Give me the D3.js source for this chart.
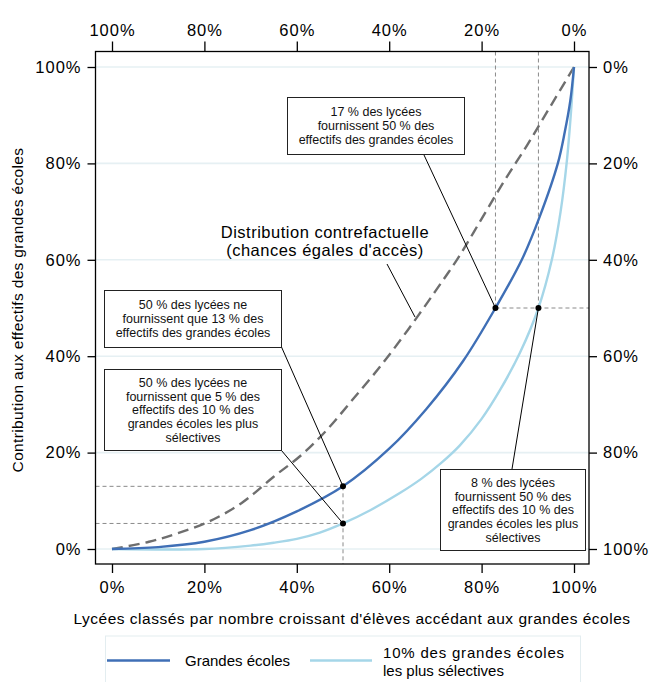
<!DOCTYPE html>
<html><head><meta charset="utf-8">
<script src="https://cdn.jsdelivr.net/npm/d3@7/dist/d3.min.js"></script>
<style>
body{margin:0;background:#fff;}
svg{display:block;font-family:"Liberation Sans",Arial,Helvetica,sans-serif;}
</style></head>
<body><svg id="c" width="655" height="682"></svg>
<script>
// ---- data ----
const tickValues = [0, 20, 40, 60, 80, 100];
const tickLabels = ["0%", "20%", "40%", "60%", "80%", "100%"];
const reverseLabels = ["100%", "80%", "60%", "40%", "20%", "0%"];

const grandesX = [0, 10, 20, 30, 40, 50, 60, 68, 76, 83, 88.7, 92.6, 96.5, 98, 99.2, 100];
const grandesY = [0, 0.4, 1.5, 3.9, 7.8, 13, 20.8, 29, 39, 50, 60, 69, 80, 86.5, 93, 100];

const selectX = [0, 20, 30, 35, 40, 45, 50, 56, 62.3, 67, 71.2, 75.3, 80, 84, 88.3, 92.3, 95.2, 97.1, 98.4, 99.3, 100];
const selectY = [0, 0, 0.7, 1.3, 2.1, 3.4, 5.3, 8.1, 11.6, 14.6, 17.8, 21.5, 27, 33, 40.7, 50, 60, 70, 80, 90, 100];

const contreX = [0, 8, 14, 21, 28, 35, 41, 46.5, 52, 58, 64, 70, 75, 80, 85, 90, 95, 100];
const contreY = [0, 1.5, 3.2, 5.7, 9.5, 15, 19.5, 24.7, 30.9, 37.8, 45.4, 53.5, 60.5, 68.5, 76.5, 84, 92, 100];

const markX = [50, 50, 83, 92.3];
const markY = [13, 5.3, 50, 50];

const box1 = ["17 % des lycées", "fournissent 50 % des", "effectifs des grandes écoles"];
const box2 = ["50 % des lycées ne", "fournissent que 13 % des", "effectifs des grandes écoles"];
const box3 = ["50 % des lycées ne", "fournissent que 5 % des", "effectifs des 10 % des", "grandes écoles les plus", "sélectives"];
const box4 = ["8 % des lycées", "fournissent 50 % des", "effectifs des 10 % des", "grandes écoles les plus", "sélectives"];
const contreLabel = ["Distribution contrefactuelle", "(chances égales d'accès)"];
const legendLabels = [["Grandes écoles"], ["10% des grandes écoles", "les plus sélectives"]];
const xTitle = "Lycées classés par nombre croissant d'élèves accédant aux grandes écoles";
const yTitle = "Contribution aux effectifs des grandes écoles";

// ---- drawing ----
const svg = d3.select("#c");
const L = 95.5, R = 589, T = 51.5, B = 564;
const x = d3.scaleLinear().domain([0, 100]).range([112, 574]);
const y = d3.scaleLinear().domain([0, 100]).range([549, 67]);
const BLUE = "#3f6fb6", LIGHT = "#a5d6e8", GREY = "#6e6e6e";

// gridlines
svg.append("g").selectAll("line").data(tickValues).join("line")
  .attr("x1", L).attr("x2", R).attr("y1", d => y(d)).attr("y2", d => y(d))
  .attr("stroke", "#e6f0f3").attr("stroke-width", 1.6);

// reference dashed guide lines
const guide = svg.append("g").attr("stroke", "#8a8a8a").attr("stroke-width", 1).attr("stroke-dasharray", "4,3").attr("fill", "none");
guide.append("line").attr("x1", L).attr("x2", x(markX[0])).attr("y1", y(markY[0])).attr("y2", y(markY[0]));
guide.append("line").attr("x1", L).attr("x2", x(markX[1])).attr("y1", y(markY[1])).attr("y2", y(markY[1]));
guide.append("line").attr("x1", x(markX[0])).attr("x2", x(markX[0])).attr("y1", y(markY[0])).attr("y2", B);
guide.append("line").attr("x1", x(markX[2])).attr("x2", x(markX[2])).attr("y1", T).attr("y2", y(markY[2]));
guide.append("line").attr("x1", x(markX[3])).attr("x2", x(markX[3])).attr("y1", T).attr("y2", y(markY[3]));
guide.append("line").attr("x1", x(markX[2])).attr("x2", R).attr("y1", y(markY[2])).attr("y2", y(markY[2]));

// curves
const line = d3.line().x(d => x(d[0])).y(d => y(d[1])).curve(d3.curveCatmullRom.alpha(0.5));
svg.append("path").attr("d", line(d3.zip(contreX, contreY)))
  .attr("fill", "none").attr("stroke", GREY).attr("stroke-width", 2.4).attr("stroke-dasharray", "11,6");
svg.append("path").attr("d", line(d3.zip(selectX, selectY)))
  .attr("fill", "none").attr("stroke", LIGHT).attr("stroke-width", 2.4);
svg.append("path").attr("d", line(d3.zip(grandesX, grandesY)))
  .attr("fill", "none").attr("stroke", BLUE).attr("stroke-width", 2.4);

// frame
svg.append("rect").attr("x", L).attr("y", T).attr("width", R - L).attr("height", B - T)
  .attr("fill", "none").attr("stroke", "#000").attr("stroke-width", 1.3);

// axes
const axB = svg.append("g").attr("transform", `translate(0,${B})`)
  .call(d3.axisBottom(x).tickValues(tickValues).tickFormat((d, i) => tickLabels[i]).tickSize(9).tickPadding(8));
const axT = svg.append("g").attr("transform", `translate(0,${T})`)
  .call(d3.axisTop(x).tickValues(tickValues).tickFormat((d, i) => reverseLabels[i]).tickSize(10).tickPadding(6));
const axL = svg.append("g").attr("transform", `translate(${L},0)`)
  .call(d3.axisLeft(y).tickValues(tickValues).tickFormat((d, i) => tickLabels[i]).tickSize(8).tickPadding(6));
const axR = svg.append("g").attr("transform", `translate(${R},0)`)
  .call(d3.axisRight(y).tickValues(tickValues).tickFormat((d, i) => reverseLabels[i]).tickSize(8).tickPadding(6));
[axB, axT, axL, axR].forEach(a => {
  a.select(".domain").remove();
  a.selectAll(".tick line").attr("stroke", "#000").attr("stroke-width", 1.3);
  a.selectAll(".tick text").attr("fill", "#000").style("font-size", "16.5px")
    .style("letter-spacing", "1px").style("font-family", '"Liberation Sans",Arial,sans-serif');
});

// leader lines
const lead = svg.append("g").attr("stroke", "#000").attr("stroke-width", 1);
lead.append("line").attr("x1", 424).attr("y1", 155).attr("x2", x(markX[2])).attr("y2", y(markY[2]));
lead.append("line").attr("x1", 281.5).attr("y1", 347).attr("x2", x(markX[0])).attr("y2", y(markY[0]));
lead.append("line").attr("x1", 281.5).attr("y1", 450.5).attr("x2", x(markX[1])).attr("y2", y(markY[1]));
lead.append("line").attr("x1", 512).attr("y1", 469).attr("x2", x(markX[3])).attr("y2", y(markY[3]));
lead.append("line").attr("x1", 387).attr("y1", 264).attr("x2", 415).attr("y2", 317);

// points
svg.append("g").selectAll("circle").data(d3.zip(markX, markY)).join("circle")
  .attr("cx", d => x(d[0])).attr("cy", d => y(d[1])).attr("r", 3).attr("fill", "#000");

// annotation boxes
function box(lines, x0, y0, w, h, firstBase, step) {
  const g = svg.append("g");
  g.append("rect").attr("x", x0).attr("y", y0).attr("width", w).attr("height", h)
    .attr("fill", "#fff").attr("stroke", "#222").attr("stroke-width", 1);
  g.selectAll("text").data(lines).join("text")
    .attr("x", x0 + w / 2).attr("y", (d, i) => firstBase + i * step)
    .attr("text-anchor", "middle").style("font-size", "12.5px").attr("fill", "#111").text(d => d);
}
box(box1, 287.5, 97.5, 177, 57, 116, 14);
box(box2, 104.5, 290.5, 177, 57, 308.5, 14);
box(box3, 104.5, 369.5, 177, 81, 387, 13.7);
box(box4, 440.5, 469.5, 145, 81, 487, 13.7);

// counterfactual label
svg.append("g").selectAll("text").data(contreLabel).join("text")
  .attr("x", 325).attr("y", (d, i) => 238 + i * 18).attr("text-anchor", "middle")
  .style("font-size", "16.5px").style("letter-spacing", "0.5px").attr("fill", "#000").text(d => d);

// titles
svg.append("text").attr("x", 352).attr("y", 624).attr("text-anchor", "middle")
  .style("font-size", "15.5px").style("letter-spacing", "0.5px").attr("fill", "#000").text(xTitle);
svg.append("text").attr("transform", "translate(23,310) rotate(-90)").attr("text-anchor", "middle")
  .style("font-size", "15.5px").style("letter-spacing", "0.35px").attr("fill", "#000").text(yTitle);

// legend
svg.append("rect").attr("x", 105.5).attr("y", 636).attr("width", 475).attr("height", 60)
  .attr("fill", "#fff").attr("stroke", "#e3edf0").attr("stroke-width", 1);
const lg = svg.append("g");
lg.append("line").attr("x1", 107).attr("x2", 170).attr("y1", 660.5).attr("y2", 660.5).attr("stroke", BLUE).attr("stroke-width", 2.4);
lg.append("text").attr("x", 185).attr("y", 666).style("font-size", "15px").attr("fill", "#000").text(legendLabels[0][0]);
lg.append("line").attr("x1", 310).attr("x2", 372).attr("y1", 660.5).attr("y2", 660.5).attr("stroke", LIGHT).attr("stroke-width", 2.4);
lg.selectAll("text.l2").data(legendLabels[1]).join("text").attr("class", "l2")
  .attr("x", 383).attr("y", (d, i) => 658 + i * 18).style("font-size", "15px")
  .style("letter-spacing", (d, i) => i === 0 ? "0.8px" : "0px").attr("fill", "#000").text(d => d);
</script></body></html>
